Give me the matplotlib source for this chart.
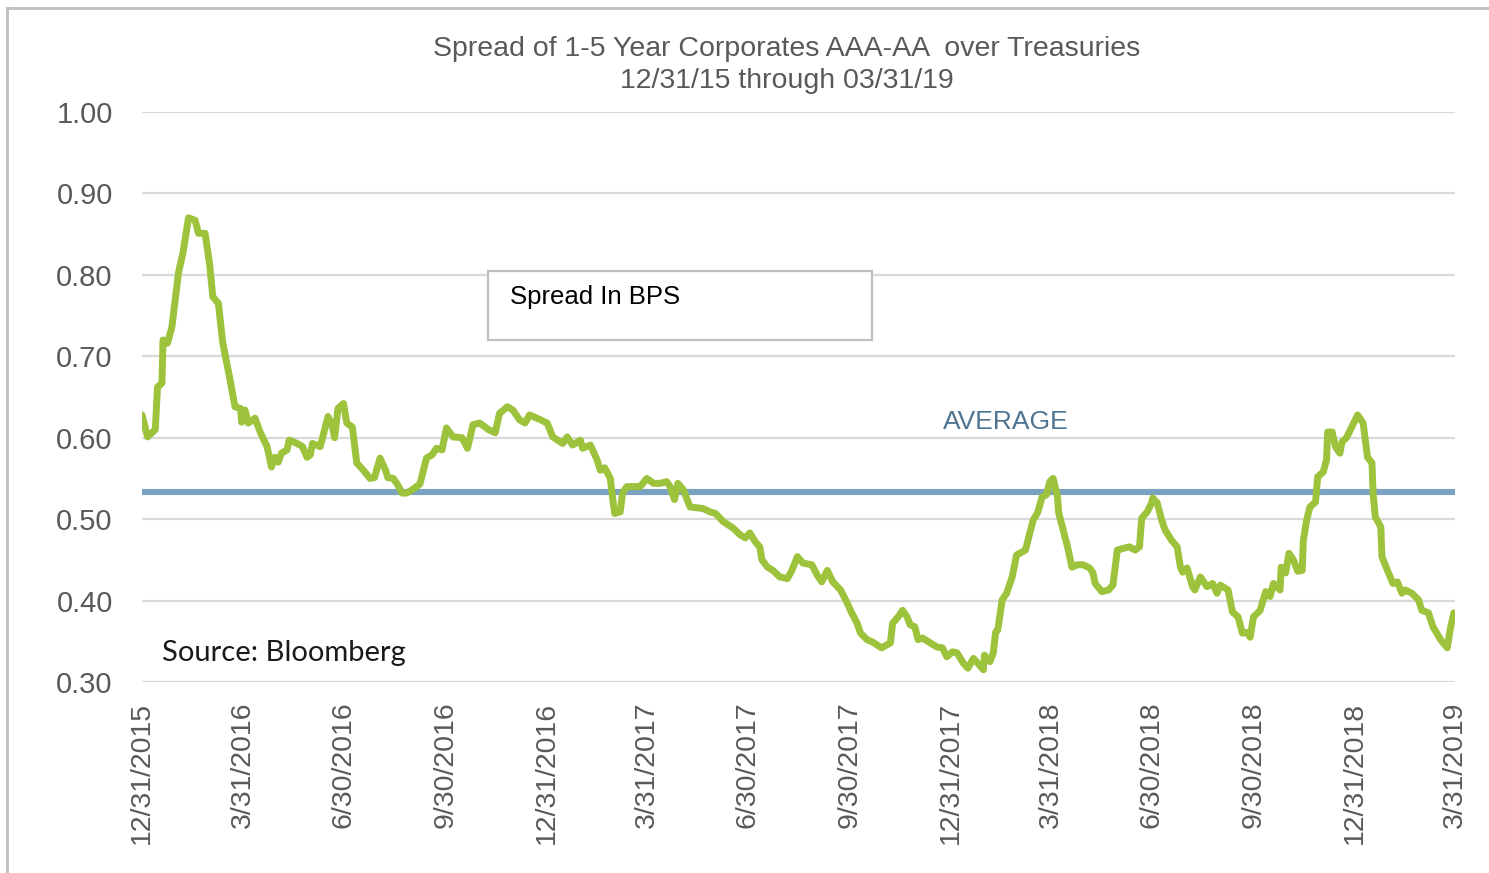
import matplotlib
matplotlib.use("Agg")
import matplotlib.pyplot as plt
import matplotlib.dates as mdates
from matplotlib.lines import Line2D
from matplotlib.patches import Rectangle
import pandas as pd

# Spread of 1-5 year AAA-AA corporates over Treasuries (in %), 12/31/15 - 03/31/19
spread_dates = [
    "2015-12-31", "2016-01-05", "2016-01-12", "2016-01-14", "2016-01-18", "2016-01-19",
    "2016-01-23", "2016-01-27", "2016-01-30", "2016-02-02", "2016-02-06", "2016-02-11",
    "2016-02-17", "2016-02-20", "2016-02-26", "2016-03-01", "2016-03-04", "2016-03-09",
    "2016-03-13", "2016-03-19", "2016-03-24", "2016-03-29", "2016-03-30", "2016-04-02",
    "2016-04-05", "2016-04-11", "2016-04-16", "2016-04-22", "2016-04-26", "2016-04-29",
    "2016-05-02", "2016-05-05", "2016-05-10", "2016-05-12", "2016-05-19", "2016-05-24",
    "2016-05-28", "2016-05-31", "2016-06-02", "2016-06-09", "2016-06-13", "2016-06-16",
    "2016-06-20", "2016-06-22", "2016-06-25", "2016-06-30", "2016-07-03", "2016-07-08",
    "2016-07-12", "2016-07-18", "2016-07-24", "2016-07-28", "2016-08-02", "2016-08-07",
    "2016-08-09", "2016-08-14", "2016-08-18", "2016-08-22", "2016-08-26", "2016-09-01",
    "2016-09-07", "2016-09-13", "2016-09-18", "2016-09-22", "2016-09-27", "2016-10-01",
    "2016-10-07", "2016-10-15", "2016-10-20", "2016-10-25", "2016-10-31", "2016-11-08",
    "2016-11-14", "2016-11-18", "2016-11-25", "2016-11-30", "2016-12-06", "2016-12-11",
    "2016-12-15", "2016-12-25", "2016-12-31", "2017-01-05", "2017-01-14", "2017-01-18",
    "2017-01-23", "2017-01-30", "2017-02-01", "2017-02-08", "2017-02-14", "2017-02-17",
    "2017-02-21", "2017-02-26", "2017-02-28", "2017-03-02", "2017-03-07", "2017-03-09",
    "2017-03-13", "2017-03-19", "2017-03-25", "2017-03-31", "2017-04-06", "2017-04-12",
    "2017-04-18", "2017-04-21", "2017-04-25", "2017-04-28", "2017-05-03", "2017-05-09",
    "2017-05-15", "2017-05-21", "2017-05-27", "2017-06-01", "2017-06-08", "2017-06-17",
    "2017-06-23", "2017-06-28", "2017-07-02", "2017-07-07", "2017-07-11", "2017-07-13",
    "2017-07-18", "2017-07-23", "2017-07-29", "2017-08-05", "2017-08-09", "2017-08-14",
    "2017-08-19", "2017-08-27", "2017-09-01", "2017-09-05", "2017-09-10", "2017-09-15",
    "2017-09-22", "2017-09-28", "2017-10-02", "2017-10-07", "2017-10-10", "2017-10-16",
    "2017-10-21", "2017-10-29", "2017-11-06", "2017-11-08", "2017-11-13", "2017-11-17",
    "2017-11-21", "2017-11-24", "2017-11-28", "2017-12-01", "2017-12-05", "2017-12-12",
    "2017-12-18", "2017-12-23", "2017-12-27", "2018-01-01", "2018-01-05", "2018-01-11",
    "2018-01-15", "2018-01-20", "2018-01-24", "2018-01-29", "2018-01-30", "2018-02-04",
    "2018-02-07", "2018-02-09", "2018-02-11", "2018-02-15", "2018-02-19", "2018-02-24",
    "2018-02-28", "2018-03-08", "2018-03-12", "2018-03-15", "2018-03-19", "2018-03-23",
    "2018-03-27", "2018-03-30", "2018-04-02", "2018-04-06", "2018-04-07", "2018-04-11",
    "2018-04-15", "2018-04-19", "2018-04-24", "2018-04-29", "2018-05-05", "2018-05-08",
    "2018-05-10", "2018-05-16", "2018-05-22", "2018-05-26", "2018-05-30", "2018-06-04",
    "2018-06-10", "2018-06-15", "2018-06-19", "2018-06-21", "2018-06-26", "2018-06-30",
    "2018-07-01", "2018-07-05", "2018-07-09", "2018-07-12", "2018-07-18", "2018-07-23",
    "2018-07-26", "2018-07-28", "2018-08-01", "2018-08-06", "2018-08-08", "2018-08-13",
    "2018-08-19", "2018-08-24", "2018-08-28", "2018-08-31", "2018-09-07", "2018-09-11",
    "2018-09-16", "2018-09-20", "2018-09-24", "2018-09-27", "2018-09-30", "2018-10-06",
    "2018-10-11", "2018-10-15", "2018-10-18", "2018-10-24", "2018-10-25", "2018-10-29",
    "2018-11-01", "2018-11-05", "2018-11-09", "2018-11-13", "2018-11-14", "2018-11-17",
    "2018-11-20", "2018-11-25", "2018-11-27", "2018-12-02", "2018-12-05", "2018-12-06",
    "2018-12-10", "2018-12-13", "2018-12-17", "2018-12-19", "2018-12-23", "2018-12-28",
    "2018-12-31", "2019-01-02", "2019-01-07", "2019-01-11", "2019-01-15", "2019-01-16",
    "2019-01-18", "2019-01-23", "2019-01-24", "2019-01-29", "2019-02-03", "2019-02-07",
    "2019-02-11", "2019-02-14", "2019-02-20", "2019-02-26", "2019-03-01", "2019-03-07",
    "2019-03-11", "2019-03-18", "2019-03-24", "2019-03-27", "2019-03-30",
]

spread_values = [
    0.628, 0.601, 0.610, 0.662, 0.667, 0.720,
    0.716, 0.736, 0.769, 0.803, 0.827, 0.870,
    0.867, 0.851, 0.851, 0.814, 0.773, 0.765,
    0.716, 0.675, 0.638, 0.636, 0.619, 0.634,
    0.618, 0.624, 0.606, 0.589, 0.564, 0.576,
    0.570, 0.581, 0.585, 0.597, 0.593, 0.589,
    0.576, 0.579, 0.593, 0.589, 0.610, 0.626,
    0.614, 0.600, 0.636, 0.642, 0.618, 0.613,
    0.569, 0.560, 0.550, 0.551, 0.575, 0.560,
    0.551, 0.550, 0.542, 0.532, 0.532, 0.537,
    0.543, 0.575, 0.579, 0.587, 0.585, 0.612,
    0.601, 0.600, 0.587, 0.616, 0.618, 0.610,
    0.606, 0.630, 0.638, 0.634, 0.622, 0.618,
    0.628, 0.622, 0.618, 0.601, 0.593, 0.601,
    0.591, 0.597, 0.587, 0.591, 0.573, 0.560,
    0.563, 0.550, 0.527, 0.507, 0.509, 0.532,
    0.540, 0.540, 0.540, 0.550, 0.544, 0.544,
    0.546, 0.540, 0.524, 0.544, 0.536, 0.515,
    0.514, 0.513, 0.509, 0.507, 0.497, 0.489,
    0.481, 0.477, 0.483, 0.472, 0.466, 0.450,
    0.441, 0.437, 0.429, 0.427, 0.437, 0.454,
    0.446, 0.444, 0.431, 0.423, 0.437, 0.423,
    0.413, 0.397, 0.385, 0.372, 0.360, 0.352,
    0.349, 0.342, 0.348, 0.372, 0.380, 0.388,
    0.380, 0.370, 0.368, 0.352, 0.354, 0.348,
    0.343, 0.342, 0.331, 0.337, 0.336, 0.323,
    0.317, 0.329, 0.323, 0.315, 0.333, 0.325,
    0.336, 0.361, 0.364, 0.401, 0.409, 0.429,
    0.456, 0.462, 0.483, 0.499, 0.508, 0.527,
    0.530, 0.546, 0.550, 0.527, 0.508, 0.487,
    0.466, 0.441, 0.444, 0.444, 0.440, 0.434,
    0.421, 0.411, 0.413, 0.419, 0.462, 0.464,
    0.466, 0.462, 0.466, 0.501, 0.509, 0.520,
    0.526, 0.520, 0.499, 0.487, 0.474, 0.466,
    0.441, 0.435, 0.440, 0.417, 0.413, 0.429,
    0.417, 0.421, 0.409, 0.419, 0.413, 0.386,
    0.380, 0.360, 0.361, 0.355, 0.380, 0.388,
    0.411, 0.405, 0.421, 0.413, 0.441, 0.434,
    0.458, 0.450, 0.436, 0.437, 0.474, 0.499,
    0.515, 0.521, 0.552, 0.558, 0.573, 0.607,
    0.607, 0.589, 0.581, 0.595, 0.600, 0.614,
    0.622, 0.628, 0.618, 0.576, 0.569, 0.532,
    0.503, 0.490, 0.454, 0.437, 0.421, 0.423,
    0.409, 0.413, 0.409, 0.401, 0.388, 0.385,
    0.368, 0.352, 0.342, 0.367, 0.385,
]

average_spread = 0.533

tick_dates = [
    "2015-12-31", "2016-03-31", "2016-06-30", "2016-09-30", "2016-12-31",
    "2017-03-31", "2017-06-30", "2017-09-30", "2017-12-31", "2018-03-31",
    "2018-06-30", "2018-09-30", "2018-12-31", "2019-03-31",
]
y_ticks = [0.30, 0.40, 0.50, 0.60, 0.70, 0.80, 0.90, 1.00]

title_lines = "Spread of 1-5 Year Corporates AAA-AA  over Treasuries\n12/31/15 through 03/31/19"

GREEN = "#9DC23B"
AVG_BLUE = "#7BA2C0"
AVG_TEXT = "#4F7491"
GRID = "#D9D9D9"
TEXT_GRAY = "#595959"
BORDER = "#BFBFBF"

plt.rcParams["font.family"] = ["Liberation Sans", "DejaVu Sans"]

W, H = 1489, 873
fig = plt.figure(figsize=(W / 100, H / 100), dpi=100)
fig.patch.set_facecolor("white")
ax = fig.add_axes([142 / W, 1 - 682 / H, (1455 - 142) / W, (682 - 112) / H])

x = pd.to_datetime(spread_dates)
ticks = pd.to_datetime(tick_dates)

ax.set_xlim(ticks[0], ticks[-1])
ax.set_ylim(0.30, 1.00)

for yv in y_ticks:
    ax.axhline(yv, color=GRID, lw=1.6, zorder=1)

ax.axhline(average_spread, color=AVG_BLUE, lw=4.4, zorder=2)
ax.plot(x, spread_values, color=GREEN, lw=5.0, zorder=3,
        solid_joinstyle="round", solid_capstyle="round")

ax.set_yticks(y_ticks)
ax.set_yticklabels([f"{v:.2f}" for v in y_ticks])
ax.set_xticks(ticks)
ax.set_xticklabels([f"{d.month}/{d.day}/{d.year}" for d in ticks], rotation=90)
ax.tick_params(axis="y", length=0, pad=21, labelsize=21, labelcolor=TEXT_GRAY)
ax.tick_params(axis="x", length=0, pad=14, labelsize=20.5, labelcolor=TEXT_GRAY)
for s in ax.spines.values():
    s.set_visible(False)

# Chart title
fig.text(787 / W, 1 - 65 / H, title_lines, ha="center", va="center",
         fontsize=20.5, color=TEXT_GRAY, linespacing=1.3)

# Series label box
ax.add_patch(Rectangle((488 / W, 1 - 340 / H), (872 - 488) / W, (340 - 271) / H,
                       transform=fig.transFigure, facecolor="white",
                       edgecolor=BORDER, lw=1.6, zorder=5))
fig.text(510 / W, 1 - 297 / H, "Spread In BPS", ha="left", va="center",
         fontsize=18.5, color="black", zorder=6)

# Average label
fig.text(1006 / W, 1 - 422 / H, "AVERAGE", ha="center", va="center",
         fontsize=19, color=AVG_TEXT)

# Source note
fig.text(162 / W, 1 - 653 / H, "Source: Bloomberg", ha="left", va="center",
         fontsize=21, color="#1A1A1A", family=["Lato", "DejaVu Sans"])

# Outer frame (top and left edges)
fig.add_artist(Line2D([7 / W, 1.0], [1 - 8 / H, 1 - 8 / H], transform=fig.transFigure,
                      color=BORDER, lw=2.0))
fig.add_artist(Line2D([7 / W, 7 / W], [0.0, 1 - 8 / H], transform=fig.transFigure,
                      color=BORDER, lw=2.0))

fig.savefig("out.png", dpi=100, facecolor="white")
